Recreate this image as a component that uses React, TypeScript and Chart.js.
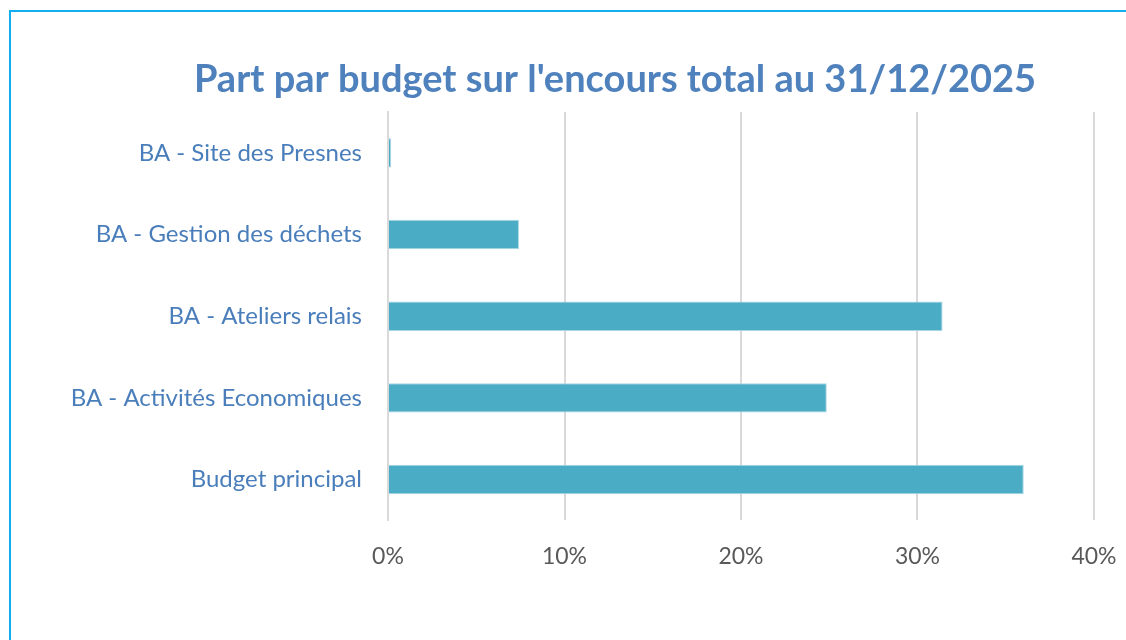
import React, { useEffect, useRef } from "react";
import { Chart, registerables } from "chart.js";

Chart.register(...registerables);

const categories = [
  "BA - Site des Presnes",
  "BA - Gestion des déchets",
  "BA - Ateliers relais",
  "BA - Activités Economiques",
  "Budget principal",
];
const shares = [0.0018, 0.0742, 0.3142, 0.2486, 0.3602];
const tickValues = [0, 0.1, 0.2, 0.3, 0.4];
const titleText = "Part par budget sur l'encours total au 31/12/2025";

const titlePlugin = {
  id: "centeredTitle",
  afterDraw(chart: any) {
    const ctx = chart.ctx;
    ctx.save();
    ctx.font = "bold 38px Lato";
    ctx.fillStyle = "#4f81bd";
    ctx.textAlign = "center";
    ctx.textBaseline = "alphabetic";
    ctx.fillText(titleText, 615, 92);
    ctx.restore();
  },
};

export default function App() {
  const ref = useRef<HTMLCanvasElement | null>(null);

  useEffect(() => {
    document.body.style.margin = "0";
    const canvas = ref.current;
    if (!canvas) return;
    const chart = new Chart(canvas, {
      type: "bar",
      data: {
        labels: categories,
        datasets: [
          {
            data: shares,
            backgroundColor: "#4bacc6",
            borderColor: "#a9d6e3",
            borderWidth: 1,
            barPercentage: 0.72,
            categoryPercentage: 0.5,
          },
        ],
      },
      options: {
        indexAxis: "y",
        animation: false,
        responsive: false,
        maintainAspectRatio: false,
        layout: { padding: { left: 0, right: 32, top: 112, bottom: 48 } },
        plugins: {
          legend: { display: false },
          tooltip: { enabled: false },
          title: { display: false },
        },
        scales: {
          x: {
            min: 0,
            max: 0.4,
            afterBuildTicks: (scale: any) => {
              scale.ticks = tickValues.map((v) => ({ value: v }));
            },
            afterFit: (scale: any) => {
              scale.paddingLeft = 0;
              scale.paddingRight = 0;
            },
            ticks: {
              color: "#595959",
              font: { family: "Lato", size: 23 },
              padding: 22,
              callback: (v: any) => Math.round(Number(v) * 100) + "%",
            },
            grid: { color: "#d9d9d9", lineWidth: 2, drawTicks: false },
            border: { display: false },
          },
          y: {
            afterFit: (scale: any) => {
              scale.width = 388;
              scale.paddingTop = 0;
              scale.paddingBottom = 0;
            },
            ticks: {
              color: "#4a7ebb",
              font: { family: "Lato", size: 24 },
              padding: 26,
            },
            grid: { display: false, drawTicks: false },
            border: { display: true, color: "#d9d9d9", width: 2 },
          },
        },
      },
      plugins: [titlePlugin],
    });
    return () => chart.destroy();
  }, []);

  return (
    <div style={{ position: "relative", width: 1126, height: 640, overflow: "hidden", background: "#fff" }}>
      <canvas ref={ref} width={1126} height={640} style={{ position: "absolute", left: 0, top: 0 }} />
      <div
        style={{
          position: "absolute",
          left: 9,
          top: 10,
          width: 1300,
          height: 800,
          borderLeft: "2px solid #10b0f0",
          borderTop: "2px solid #10b0f0",
          pointerEvents: "none",
        }}
      />
    </div>
  );
}
